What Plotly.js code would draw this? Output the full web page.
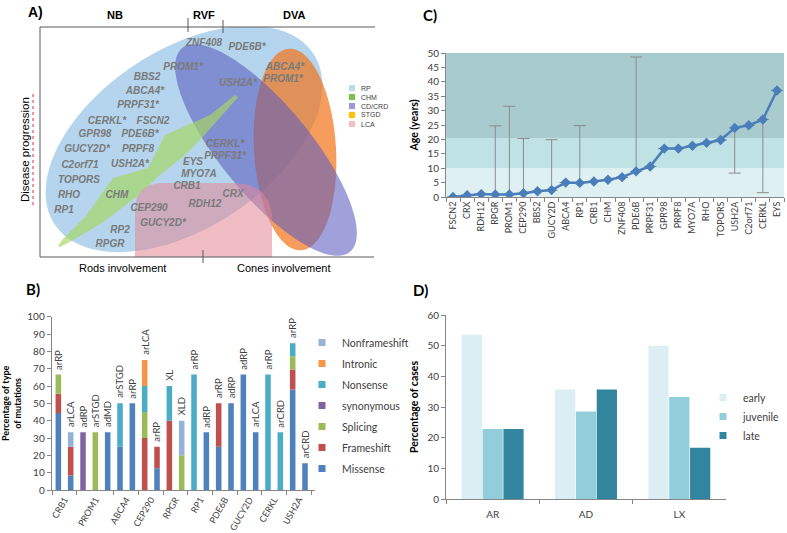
<!DOCTYPE html>
<html><head><meta charset="utf-8">
<script src="https://cdn.plot.ly/plotly-3.0.1.min.js"></script>
<style>html,body{margin:0;padding:0;background:#fff}#chart{width:787px;height:533px}</style>
</head><body><div id="chart"></div>
<script>
// ---------- Panel A (diagram) ----------
const geneNames = ['ZNF408','PDE6B*','PROM1*','ABCA4*','PROM1*','BBS2','USH2A*','ABCA4*','PRPF31*','CERKL*','FSCN2','GPR98','PDE6B*','GUCY2D*','PRPF8','CERKL*','PRPF31*','C2orf71','USH2A*','EYS','MYO7A','TOPORS','CRB1','RHO','CHM','CRX','RP1','CEP290','RDH12','GUCY2D*','RP2','RPGR'];
const geneX = [204,247,183,285,283,147,238,145,138,107,153,95,140,87,138,225,225,80,130,193,199,79,187,69,117,233,64,149,205,163,120,110];
const geneY = [43,47,67,67,79,77,83,91,105,121,121,134,134,149,149,144,156,165,164,162,174,180,186,195,195,194,210,208,204,223,230,244];

const vennSets = ['RP','CHM','CD/CRD','STGD','LCA'];
const vennLegendColors = ['#b7dde8','#7cc045','#9999d8','#ffc000','#f5bec3'];
// ellipses: RP, STGD, CD/CRD
const ellName = ['RP','STGD','CD/CRD'];
const ellCX = [184,295,266];
const ellCY = [139,149.5,150];
const ellA = [155,101,132];
const ellB = [89,41,45];
const ellAng = [33.4,-86.6,-50.5];
const ellFill = ['rgba(130,185,225,0.6)','rgba(242,115,25,0.7)','rgba(92,92,192,0.58)'];
// CHM band polygon
const chmX = [58,62,85,113,148,165,210,225,235,238,225,200,185,160,135,102,68,60];
const chmY = [246,240,217,178,168,135,115,103,95,97,112,140,155,175,198,223,243,247];
// LCA outline
const lcaX = [135,135,137,142,150,160,235,250,262,269,272,272];
const lcaY = [257,207,197,190,185,183,183,185,192,202,214,257];

// ---------- Panel B ----------
const mutBarLabels = ['arRP','arLCA','adRP','arSTGD','adMD','arSTGD','arRP','arLCA','arRP','XL','XLD','arRP','adRP','arRP','adRP','adRP','arLCA','arRP','arCRD','arRP','arCRD'];
const mutGenes = ['CRB1','PROM1','ABCA4','CEP290','RPGR','RP1','PDE6B','GUCY2D','CERKL','USH2A'];
const mutGroupSizes = [2,3,2,2,2,2,2,2,2,2];
const missense      = [44.4,8.3,0,0,33.3,25,50,0,12.5,0,0,0,33.3,25,50,66.7,33.3,0,0,58,15.4];
const frameshift    = [11.1,16.7,0,0,0,0,0,30,12.5,40,0,0,0,25,0,0,0,0,0,11.5,0];
const splicing      = [11.1,0,0,33.3,0,0,0,15,0,0,20,0,0,0,0,0,0,0,0,7.7,0];
const synonymous    = [0,0,33.3,0,0,0,0,0,0,0,0,0,0,0,0,0,0,0,0,0,0];
const nonsense      = [0,0,0,0,0,25,0,15,0,20,0,66.7,0,0,0,0,0,66.7,33.3,7.5,0];
const intronic      = [0,0,0,0,0,0,0,15,0,0,0,0,0,0,0,0,0,0,0,0,0];
const nonframeshift = [0,8.3,0,0,0,0,0,0,0,0,20,0,0,0,0,0,0,0,0,0,0];
const mutSeriesNames = ['Missense','Frameshift','Splicing','synonymous','Nonsense','Intronic','Nonframeshift'];
const mutSeries = [missense,frameshift,splicing,synonymous,nonsense,intronic,nonframeshift];
const mutColors = ['#4f81bd','#c0504d','#9bbb59','#8064a2','#4bacc6','#f79646','#95b3d7'];

// ---------- Panel C ----------
const ageGenes = ['FSCN2','CRX','RDH12','RPGR','PROM1','CEP290','BBS2','GUCY2D','ABCA4','RP1','CRB1','CHM','ZNF408','PDE6B','PRPF31','GPR98','PRPF8','MYO7A','RHO','TOPORS','USH2A','C2orf71','CERKL','EYS'];
const ageOnset = [0,0.6,1.0,0.9,0.9,1.3,2.0,2.4,5.0,4.9,5.4,6.0,6.9,8.9,10.6,16.8,16.8,17.8,18.8,19.8,24.0,24.9,26.9,37.0];
const ageErrPlus  = [null,null,null,23.8,30.6,19.0,null,17.5,null,19.9,null,null,null,39.7,null,null,null,null,null,null,null,null,null,null];
const ageErrMinus = [null,null,null,null,null,null,null,null,null,null,null,null,null,null,null,null,null,null,null,null,15.7,null,25.4,null];
const ageBandEdges = [0,10,20.5,50];
const ageBandColors = ['#dff0f2','#bfe2e5','#a8cbce'];

// ---------- Panel D ----------
const inheritance = ['AR','AD','LX'];
const earlyCases = [53.6,35.7,50.0];
const juvenileCases = [22.8,28.5,33.3];
const lateCases = [22.8,35.7,16.7];
const onsetNames = ['early','juvenile','late'];
const onsetSeries = [earlyCases,juvenileCases,lateCases];
const onsetColors = ['#daeef3','#92cddc','#31859c'];

// ---------- helpers ----------
const W = 787, H = 533;
const px = x => x / W, py = y => 1 - y / H;
const fontA = 'Liberation Sans, Arial, sans-serif';
const fontC = 'Lato, Liberation Sans, sans-serif';
const axisGray = '#868686', textGray = '#404040';

function ellipsePath(cx, cy, a, b, angDeg) {
  const t0 = angDeg * Math.PI / 180, c = Math.cos(t0), s = Math.sin(t0);
  let p = '';
  for (let i = 0; i <= 120; i++) {
    const t = 2 * Math.PI * i / 120;
    const u = a * Math.cos(t), v = b * Math.sin(t);
    const x = cx + u * c - v * s;
    const y = cy - (u * s + v * c);
    p += (i === 0 ? 'M' : 'L') + x.toFixed(2) + ',' + y.toFixed(2);
  }
  return p + 'Z';
}
function polyPath(xs, ys) {
  return xs.map((x, i) => (i === 0 ? 'M' : 'L') + x + ',' + ys[i]).join('') + 'Z';
}

const traces = [];
const shapes = [];
const annotations = [];

// ---- Panel A shapes ----
for (let i = 0; i < ellName.length; i++) {
  shapes.push({type:'path', xref:'x', yref:'y', layer:'below', path: ellipsePath(ellCX[i], ellCY[i], ellA[i], ellB[i], ellAng[i]), fillcolor: ellFill[i], line:{width:0}});
}
shapes.push({type:'path', xref:'x', yref:'y', layer:'below', path: polyPath(chmX, chmY), fillcolor:'rgba(165,215,95,0.66)', line:{width:0}});
shapes.push({type:'path', xref:'x', yref:'y', layer:'below', path: polyPath(lcaX, lcaY), fillcolor:'rgba(228,135,150,0.55)', line:{width:0}});
// frame
const frameLine = {color:'#595959', width:1};
shapes.push({type:'line', xref:'paper', yref:'paper', x0:px(40), x1:px(375), y0:py(27), y1:py(27), line:frameLine});
shapes.push({type:'line', xref:'paper', yref:'paper', x0:px(40), x1:px(40), y0:py(27), y1:py(257), line:frameLine});
shapes.push({type:'line', xref:'paper', yref:'paper', x0:px(40), x1:px(374), y0:py(257), y1:py(257), line:frameLine});
shapes.push({type:'line', xref:'paper', yref:'paper', x0:px(188), x1:px(188), y0:py(18), y1:py(32), line:frameLine});
shapes.push({type:'line', xref:'paper', yref:'paper', x0:px(223), x1:px(223), y0:py(20), y1:py(33), line:frameLine});
shapes.push({type:'line', xref:'paper', yref:'paper', x0:px(203), x1:px(203), y0:py(250), y1:py(263), line:frameLine});
shapes.push({type:'line', xref:'paper', yref:'paper', x0:px(33), x1:px(33), y0:py(94), y1:py(207), line:{color:'#e03030', width:1, dash:'dot'}});
// legend A
vennSets.forEach((n, i) => {
  const yc = 88 + i * 9;
  shapes.push({type:'rect', xref:'paper', yref:'paper', x0:px(349), x1:px(355), y0:py(yc+3), y1:py(yc-3), fillcolor:vennLegendColors[i], line:{width:0}});
  annotations.push({xref:'paper', yref:'paper', x:px(359), y:py(yc), text:n, showarrow:false, xanchor:'left', yanchor:'middle', font:{family:fontA, size:7, color:'#404040'}});
});
traces.push({type:'scatter', mode:'text', x:geneX, y:geneY, text:geneNames, xaxis:'x', yaxis:'y', cliponaxis:false,
  textfont:{family:fontA, size:10, color:'#7a7a7a', weight:'bold', style:'italic'}, hoverinfo:'skip', showlegend:false});

const aText = [
  ['A)', 35, 12, 14, 'bold', 0],
  ['NB', 115, 15, 11, 'bold', 0],
  ['RVF', 204, 15, 11, 'bold', 0],
  ['DVA', 294, 15, 11, 'bold', 0],
  ['Rods involvement', 122, 268, 11, 'normal', 0],
  ['Cones involvement', 284, 268, 11, 'normal', 0],
  ['Disease progression', 25, 150, 11.5, 'normal', -90]
];
aText.forEach(t => annotations.push({xref:'paper', yref:'paper', x:px(t[1]), y:py(t[2]), text:t[0], showarrow:false, textangle:t[5],
  xanchor:'center', yanchor:'middle', font:{family:fontA, size:t[3], color:'#000', weight:t[4]}}));

// ---- Panel B ----
const mutX = mutBarLabels.map((_, i) => i);
const cum = mutX.map(() => 0);
mutSeries.forEach((vals, k) => {
  traces.push({type:'bar', x:mutX, y:vals, base:cum.slice(), xaxis:'x3', yaxis:'y3', width:0.45, offset:-0.225, offsetgroup:'mut',
    name:mutSeriesNames[k], marker:{color:mutColors[k]}, showlegend:false, hoverinfo:'y+name'});
  vals.forEach((v, i) => cum[i] += v);
});
mutX.forEach((x, i) => annotations.push({xref:'x3', yref:'y3', x:x, y:cum[i], text:mutBarLabels[i], textangle:-90, showarrow:false,
  xanchor:'center', yanchor:'bottom', yshift:3, font:{family:fontC, size:9.5, color:textGray}}));
for (let k = mutSeriesNames.length - 1; k >= 0; k--) {
  traces.push({type:'scatter', mode:'markers', x:[null], y:[null], xaxis:'x3', yaxis:'y3', name:mutSeriesNames[k], legendgroup:mutSeriesNames[k],
    marker:{symbol:'square', size:7, color:mutColors[k]}, legend:'legend', showlegend:true, hoverinfo:'skip'});
}
const groupCenters = [], groupBounds = [-0.5];
let start = 0;
mutGroupSizes.forEach(s => { groupCenters.push(start + (s - 1) / 2); start += s; groupBounds.push(start - 0.5); });

// ---- Panel C ----
ageBandColors.forEach((c, i) => shapes.push({type:'rect', xref:'x2 domain', yref:'y2', x0:0, x1:1, y0:ageBandEdges[i], y1:ageBandEdges[i+1], fillcolor:c, line:{width:0}, layer:'below'}));
traces.push({type:'scatter', mode:'lines+markers', x:ageGenes, y:ageOnset, xaxis:'x2', yaxis:'y2', showlegend:false,
  line:{color:'#4a7ebb', width:2.5}, marker:{symbol:'diamond', size:8, color:'#4a7ebb'},
  error_y:{type:'data', symmetric:false, array:ageErrPlus, arrayminus:ageErrMinus, color:'#8c8c8c', thickness:1, width:6}});

// ---- Panel D ----
onsetSeries.forEach((vals, k) => {
  traces.push({type:'bar', x:inheritance, y:vals, xaxis:'x4', yaxis:'y4', name:onsetNames[k], marker:{color:onsetColors[k]}, showlegend:false});
});
onsetNames.forEach((n, k) => traces.push({type:'scatter', mode:'markers', x:[null], y:[null], xaxis:'x4', yaxis:'y4', name:n,
  marker:{symbol:'square', size:7, color:onsetColors[k]}, legend:'legend2', showlegend:true, hoverinfo:'skip'}));

// panel letters
[['B)', 33, 289], ['C)', 430, 15], ['D)', 420, 290]].forEach(t => annotations.push({xref:'paper', yref:'paper', x:px(t[1]), y:py(t[2]), text:t[0],
  showarrow:false, xanchor:'center', yanchor:'middle', font:{family:fontC, size:15, color:'#000', weight:'bold'}}));

const baseAxis = {showgrid:false, zeroline:false, showline:true, linecolor:axisGray, linewidth:1, ticks:'outside', ticklen:4, tickcolor:axisGray,
  tickfont:{family:fontC, size:10, color:textGray}, fixedrange:true};

const layout = {
  width:W, height:H, margin:{l:0, r:0, t:0, b:0}, paper_bgcolor:'#ffffff', plot_bgcolor:'rgba(0,0,0,0)',
  barmode:'group', bargap:0.33, bargroupgap:0.03,
  font:{family:fontC, color:textGray},
  xaxis:{domain:[px(40), px(375)], range:[40,375], visible:false, fixedrange:true},
  yaxis:{domain:[py(257), py(27)], range:[257,27], visible:false, fixedrange:true},
  xaxis2:Object.assign({}, baseAxis, {domain:[px(446), px(784)], anchor:'y2', type:'category', tickson:'boundaries', tickangle:-90,
    range:[-0.5, ageGenes.length - 0.5], tickfont:{family:fontC, size:9, color:textGray}}),
  yaxis2:Object.assign({}, baseAxis, {domain:[py(197), py(53)], anchor:'x2', range:[0,50], dtick:5,
    title:{text:'Age (years)', standoff:6, font:{family:fontC, size:10.5, color:'#000', weight:'bold'}}}),
  xaxis3:Object.assign({}, baseAxis, {domain:[px(51.7), px(315)], anchor:'y3', range:[-0.54, 20.81], tickmode:'array',
    tickvals:groupCenters, ticktext:mutGenes, ticks:'', tickangle:-60, tickfont:{family:fontC, size:9, color:textGray},
    minor:{tickmode:'array', tickvals:groupBounds, ticks:'outside', ticklen:4, tickcolor:axisGray}}),
  yaxis3:Object.assign({}, baseAxis, {domain:[py(490), py(316.7)], anchor:'x3', range:[0,100], dtick:10,
    title:{text:'Percentage of type<br>of mutations', standoff:5, font:{family:fontC, size:9, color:'#000', weight:'bold'}}}),
  xaxis4:Object.assign({}, baseAxis, {domain:[px(446), px(726)], anchor:'y4', type:'category', tickson:'boundaries',
    range:[-0.5, 2.5], ticklabelstandoff:6}),
  yaxis4:Object.assign({}, baseAxis, {domain:[py(499), py(315)], anchor:'x4', range:[0,60], dtick:10,
    title:{text:'Percentage of cases', standoff:6, font:{family:fontC, size:10.5, color:'#000', weight:'bold'}}}),
  legend:{x:px(302), y:py(328), xanchor:'left', yanchor:'top', bgcolor:'rgba(0,0,0,0)', tracegroupgap:2,
    font:{family:fontC, size:10.5, color:textGray}, itemclick:false, itemdoubleclick:false},
  legend2:{x:px(703), y:py(383), xanchor:'left', yanchor:'top', bgcolor:'rgba(0,0,0,0)',
    font:{family:fontC, size:10.5, color:textGray}, itemclick:false, itemdoubleclick:false},
  shapes:shapes, annotations:annotations
};

Plotly.newPlot('chart', traces, layout, {displayModeBar:false, staticPlot:true});
</script>
</body></html>
